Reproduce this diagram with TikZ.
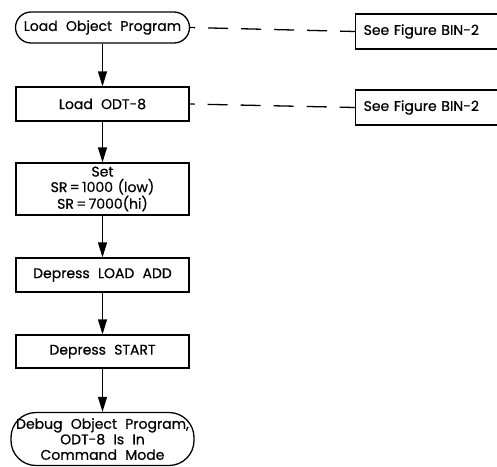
\documentclass[tikz,border=0pt]{standalone}
\usepackage{fontspec}
\setmainfont{Poppins}[WordSpace=2.2, FakeBold=0.6]
\usetikzlibrary{arrows.meta}

\begin{document}
\begin{tikzpicture}[x=1pt, y=-1pt, line width=1.3pt,
        every node/.style={font=\fontsize{14}{15.5}\selectfont, align=center, inner sep=1pt},
        stepbox/.style={draw, rectangle, minimum width=173pt},
        termbox/.style={draw, rectangle, rounded corners=#1},
        refbox/.style={draw, rectangle, anchor=west, minimum height=35pt, inner xsep=8pt, text width=160pt, align=left},
        flow/.style={-{Triangle[width=9pt,length=15pt]}},
        link/.style={dash pattern=on 20pt off 13pt, dash phase=15pt}]
        \useasboundingbox (0,0) rectangle (497,466);
        \clip (0,0) rectangle (497,466);

        \node[termbox=15.5pt, minimum width=174pt, minimum height=31pt] (load) at (102.5,27.5) {Load Object Program};
        \node[stepbox, minimum height=34pt] (odt) at (102.5,104) {Load ODT-8};
        \node[stepbox, minimum height=52pt] (set) at (102.5,189) {Set\\SR\,=\,1000\,\,(low)\\SR\,=\,7000(hi)};
        \node[stepbox, minimum height=34pt] (addr) at (102.5,275) {Depress LOAD ADD};
        \node[stepbox, minimum height=33pt] (start) at (102.5,351.5) {Depress START};
        \node[termbox=25pt, minimum width=183pt, minimum height=53pt] (debug) at (102.5,439) {Debug Object Program,\\ODT-8 Is In\\Command Mode};

        \node[refbox] (fig1) at (355,31.5) {See Figure BIN-2};
        \node[refbox] (fig2) at (355,107.5) {See Figure BIN-2};

        \draw[flow] (load) -- (odt);
        \draw[flow] (odt) -- (set);
        \draw[flow] (set) -- (addr);
        \draw[flow] (addr) -- (start);
        \draw[flow] (start) -- (debug);

        \draw[link] (load.east) -- (fig1.west);
        \draw[link] (odt.east) -- (fig2.west);
    \end{tikzpicture}
\end{document}
